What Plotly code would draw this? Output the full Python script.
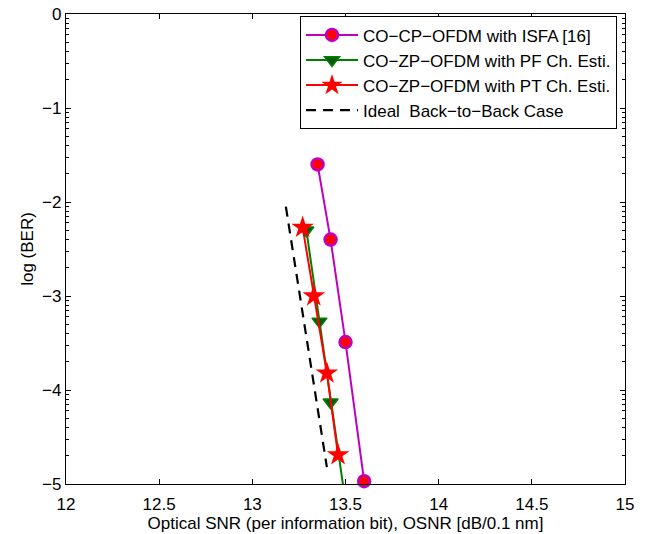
import numpy as np
import plotly.graph_objects as go

# Data
isfa_x = [13.35, 13.42, 13.50, 13.60]
isfa_y = [-1.60, -2.40, -3.49, -4.97]

pf_x = [13.29, 13.36, 13.42, 13.515]
pf_y = [-2.30, -3.27, -4.13, -5.40]

pt_x = [13.27, 13.33, 13.40, 13.46]
pt_y = [-2.27, -3.00, -3.82, -4.69]

ideal_x = [13.18, 13.40]
ideal_y = [-2.05, -4.82]

x_ticks = [12, 12.5, 13, 13.5, 14, 14.5, 15]
x_ticktext = ["12", "12.5", "13", "13.5", "14", "14.5", "15"]
y_ticks = [-5, -4, -3, -2, -1, 0]
y_ticktext = ["\u22125", "\u22124", "\u22123", "\u22122", "\u22121", "0"]

names = ["CO\u2212CP\u2212OFDM with ISFA [16]",
         "CO\u2212ZP\u2212OFDM with PF Ch. Esti.",
         "CO\u2212ZP\u2212OFDM with PT Ch. Esti.",
         "Ideal  Back\u2212to\u2212Back Case"]

minor_vals = [n + np.log10(k) for n in range(-5, 0) for k in range(2, 10)]

FONT = "Liberation Sans, Arial, Helvetica, sans-serif"
FS = 17

fig = go.Figure()
fig.add_trace(go.Scatter(
    x=isfa_x, y=isfa_y, mode="lines+markers", name=names[0],
    cliponaxis=False,
    line=dict(color="#C000C0", width=2),
    marker=dict(symbol="circle", size=12, color="#FF0000",
                line=dict(color="#C000C0", width=2.5))))
fig.add_trace(go.Scatter(
    x=pf_x, y=pf_y, mode="lines+markers", name=names[1],
    line=dict(color="#008000", width=2),
    marker=dict(symbol="triangle-down", size=13, color="#0B5A0B",
                line=dict(color="#008000", width=1.5))))
fig.add_trace(go.Scatter(
    x=pt_x, y=pt_y, mode="lines+markers", name=names[2],
    line=dict(color="#FF0000", width=2),
    marker=dict(symbol="star", size=17, color="#FF0000",
                line=dict(color="#FF0000", width=0))))
fig.add_trace(go.Scatter(
    x=ideal_x, y=ideal_y, mode="lines", name=names[3],
    line=dict(color="black", width=2.2, dash="10px,7px")))

fig.update_layout(
    width=649, height=534,
    margin=dict(l=66, r=24, t=14, b=50, autoexpand=False),
    paper_bgcolor="white", plot_bgcolor="white",
    font=dict(family=FONT, size=FS, color="black"),
    showlegend=True,
    legend=dict(x=0.9857, y=0.995, xanchor="right", yanchor="top",
                bgcolor="white", bordercolor="black", borderwidth=1,
                font=dict(family=FONT, size=FS), tracegroupgap=0,
                itemwidth=52),
)
fig.update_xaxes(
    range=[12, 15], tickvals=x_ticks, ticktext=x_ticktext,
    ticks="inside", ticklen=5, tickcolor="black", tickwidth=1,
    showline=True, linecolor="black", linewidth=1.3, mirror="ticks",
    showgrid=False, zeroline=False, automargin=False,
    ticklabelstandoff=4,
    title=dict(text="Optical SNR (per information bit), OSNR [dB/0.1 nm]",
               font=dict(size=FS), standoff=0),
    tickfont=dict(size=FS))
fig.update_yaxes(
    range=[-5, 0], tickvals=y_ticks, ticktext=y_ticktext,
    ticks="inside", ticklen=5, tickcolor="black", tickwidth=1,
    showline=True, linecolor="black", linewidth=1.3, mirror="ticks",
    showgrid=False, zeroline=False, automargin=False,
    ticklabeloverflow="allow",
    minor=dict(tickmode="array", tickvals=minor_vals, ticks="inside",
               ticklen=3, tickcolor="black", tickwidth=1, showgrid=False),
    title=dict(text="log (BER)", font=dict(size=FS), standoff=4),
    tickfont=dict(size=FS))

fig.write_html("out.html",
               config={"displayModeBar": False},
               post_script="document.body.style.margin='0';")
